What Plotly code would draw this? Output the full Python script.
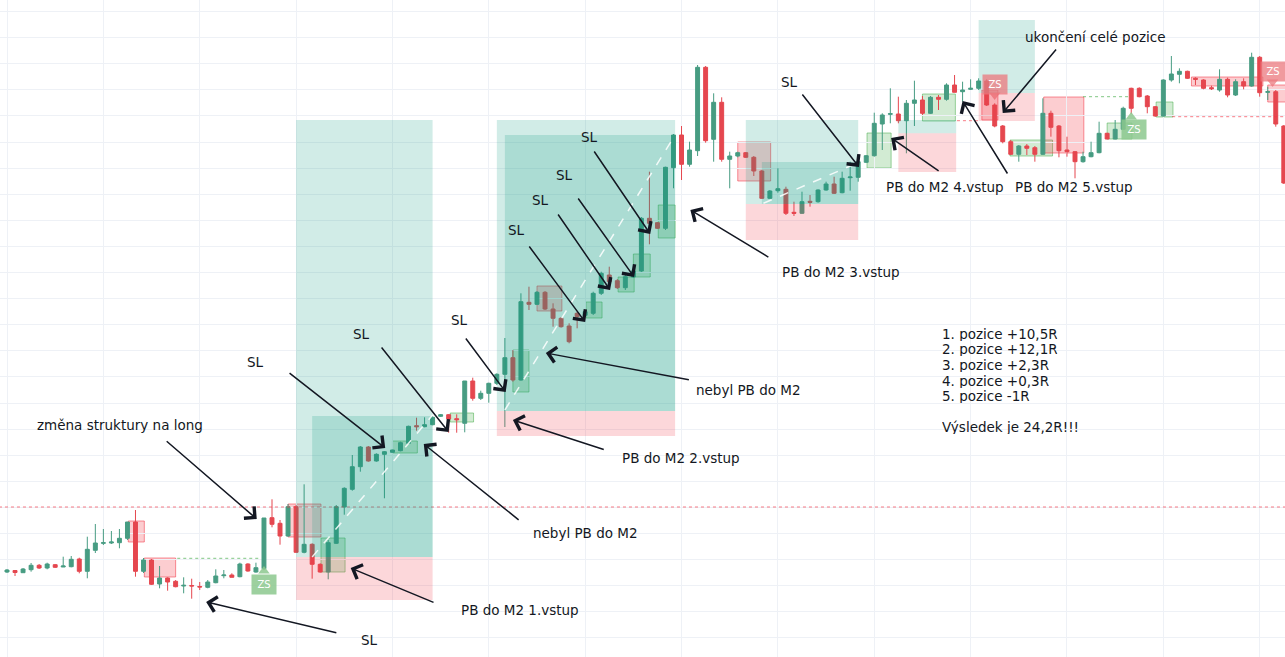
import plotly.graph_objects as go

# ---------------- candle data (price units) ----------------
idx = list(range(160))
open_ = [85, 86.5, 84.3, 87.3, 91.7, 89, 92.3, 90, 90.3, 98,
         85.7, 106.7, 113.7, 114, 114.3, 118.7, 135, 85.7, 97, 73,
         79, 75.7, 71, 71.5, 70.5, 69.7, 74.3, 81.3, 82, 80.3,
         93, 85, 88.3, 139.3, 133.7, 121, 150.3, 104.7, 112.7, 92.7,
         85, 113.7, 150, 167.7, 190.3, 210, 196, 202.7, 204.7, 206.3,
         213.7, 231.3, 230.3, 232.3, 240.7, 242.3, 238.3, 233.7, 276, 258.7,
         263.7, 273.7, 282.7, 299.3, 277, 354.7, 352.7, 364.7, 348, 338.7,
         331, 343.7, 341.7, 343.7, 363.7, 382, 376.3, 369.3, 380, 386,
         438.7, 434.3, 428.7, 489.3, 522, 492.7, 506.3, 589.7, 517.7, 554.7,
         497.7, 501, 504.3, 499.7, 486, 458.7, 466.3, 467.7, 444.7, 443.7,
         455.7, 455.3, 467, 473, 464.3, 479.3, 479.7, 494.7, 501.3, 533,
         542.7, 543, 536.3, 553.7, 557, 543.7, 559.7, 557.7, 572, 565.3,
         567.7, 568.7, 576, 552, 531, 515.3, 502.7, 511, 509.3, 502.7,
         543.7, 531, 507, 505.3, 495.3, 500.3, 504.3, 523.7, 518, 527.7,
         568.7, 568.7, 561, 550.3, 541, 577, 582.7, 585.7, 578.7, 577,
         569.3, 567, 577.7, 562, 575.3, 571, 599.7, 564.7, 565.3, 531]
high = [88, 87, 89, 94, 93, 94.3, 93, 100.3, 101, 99.3,
        120.3, 133, 128, 126, 128, 135, 147, 99, 98, 91,
        79.7, 77, 79.7, 78.3, 75, 77, 87.7, 87, 83.7, 94.3,
        93.7, 94.3, 139, 157.7, 137, 153, 152, 172.7, 113.7, 93.7,
        117, 152, 169.7, 202, 211, 211, 203.7, 206, 207.3, 215.3,
        231.3, 239.3, 239.7, 240.7, 243, 243, 242.7, 276, 279.3, 266.3,
        274.3, 283.7, 319, 307, 363.7, 370.3, 366, 366, 353.7, 340,
        333.7, 345.3, 347, 365.3, 385.3, 390.3, 378, 382, 387, 440,
        485.3, 435, 490.3, 523, 531, 515.3, 592, 591, 563.7, 559.7,
        505.3, 505.3, 505, 501, 487, 467, 488.7, 470.3, 455.3, 465.3,
        462, 467.7, 475.3, 480.3, 485.3, 495.3, 502, 502, 544.3, 543.7,
        568.7, 560.3, 557, 576.3, 561, 561, 562, 573.7, 582, 575.3,
        577.7, 578.7, 577.7, 553.7, 532, 517, 512, 513, 511, 558.7,
        546.3, 532, 520.3, 506, 505.3, 515.3, 535.3, 524.3, 537, 550.3,
        569.3, 569.7, 562, 551, 577.7, 601, 588.7, 586.3, 579.7, 577.7,
        571.3, 587.7, 579.3, 577.7, 578.7, 604.3, 601, 570.3, 567, 532]
low = [84, 81, 84, 85.3, 88, 87.7, 89, 90, 89.7, 83.7,
       78.7, 104, 112, 113, 108.7, 117, 80.3, 84, 72, 68.7,
       66.3, 69.7, 63.7, 58.3, 67, 68.7, 73.7, 78.7, 79.7, 79.7,
       85.3, 84.3, 87, 129.7, 112.3, 120.3, 104.3, 103.7, 78.3, 84.3,
       77.7, 113, 142.3, 166.3, 185.3, 195.3, 195.3, 158.7, 204.3, 205.7,
       213, 226.3, 229.7, 231.7, 240, 224.3, 224.3, 224.7, 256.3, 257,
       254.3, 272, 230, 275.3, 276.3, 347, 352, 347, 330.3, 329.3,
       313.7, 328.7, 340, 342, 362, 367, 368, 367, 379, 385,
       412.7, 428, 427, 468.7, 477, 490.3, 501, 514.3, 495.3, 495.3,
       468.7, 499.7, 499, 481, 458, 458, 464.3, 442, 441, 443,
       450.3, 454.3, 466.3, 463, 463.7, 466.3, 475.3, 494, 500.3, 507,
       533.7, 533.7, 503.7, 531, 542, 543, 547, 556.3, 564.7, 555.3,
       567, 567, 551, 529.7, 513.7, 502, 495.3, 502, 495.3, 502,
       520.3, 499.7, 500.3, 478.7, 494.3, 499.7, 503.7, 517.7, 517.7, 527,
       543, 559.7, 543.7, 540.3, 540.3, 575.3, 573.7, 578, 572, 567.7,
       567, 565.3, 559.7, 561, 567.7, 570.3, 560.3, 557, 530.3, 473]
close = [87, 84.5, 88, 91.7, 89, 93, 89.7, 91, 97.7, 85.7,
         107.7, 114, 114.3, 115, 118.7, 135, 85.7, 97, 72.7, 79,
         75, 70.3, 71.7, 71, 70, 75, 81, 82, 79.7, 93,
         86, 89.3, 139, 132.7, 121, 150.3, 104.7, 112.7, 92.7, 85,
         114.3, 150.3, 168.7, 190.3, 210, 196, 202.7, 205.3, 207, 214.3,
         230.7, 230.3, 232.3, 239.7, 242.3, 238, 237.3, 276, 258.7, 263.7,
         273.7, 282.7, 299.3, 277, 355.3, 352.7, 364.7, 348, 338.7, 330.3,
         315.3, 340.3, 345.3, 363.7, 383.7, 375.3, 369.3, 380.3, 386, 438.7,
         433.7, 428.7, 489.7, 522, 492.7, 507, 589.7, 516.3, 554.7, 497.7,
         501, 504.3, 499.7, 486, 458.7, 466, 468.3, 443.7, 443.7, 455.3,
         454.7, 467, 473, 463.7, 478.7, 480, 495.3, 501.3, 533.7, 542,
         543.3, 536.3, 553.7, 557, 543.7, 559.7, 557.7, 572, 564.7, 567,
         568.7, 576, 552, 531, 515.3, 502.7, 511, 508.7, 502.7, 543.7,
         529.7, 506.3, 505.3, 495.3, 500.3, 504.3, 523.7, 518, 527.7, 548.7,
         548.7, 560.3, 550.3, 541, 577, 583, 585.7, 578.7, 577.7, 568.7,
         568.3, 577.7, 562, 575.3, 571, 599.7, 564.3, 565.3, 533, 474]

# ---------------- drawings (bar index / price) ----------------
# long-position tools: start, end, target, entry, stop
pos_start = [36, 61, 92, 111, 121]
pos_end = [53, 83.2, 106, 118.2, 128]
pos_target = [537, 537, 537, 537, 637]
pos_entry = [100, 246, 453, 523.7, 564]
pos_stop = [57, 221, 417, 485, 536]
# second (overlapping) entries inside the big positions
inner_start = [38, 62, 94]
inner_end = [53, 83.2, 106]
inner_entry = [100, 246, 453]
inner_target = [241, 522, 495]
# trend lines of the positions (white dashed)
trend_x0 = [38, 62, 94.2]
trend_y0 = [100, 247, 453.7]
trend_x1 = [53, 83.2, 105.8]
trend_y1 = [242, 522, 493.7]

# rectangles: x0, x1, y0, y1, kind
box_x0 = [15.1, 17.1, 35, 39.1, 48, 55.2, 63, 66, 72.1, 76.1, 78, 81.1, 91, 107.1, 114, 124.9, 129.1, 137, 143.1, 147.5, 157, 121.4]
box_x1 = [17.1, 21.0, 39.1, 42.1, 51.1, 58.1, 65, 69.1, 74.1, 78.1, 80.1, 83.2, 95.1, 110.1, 118.1, 130.2, 134.1, 140.1, 145.2, 156.4, 159.5, 123.4]
box_y0 = [115, 80, 120, 85, 204, 235, 265, 346, 339, 365, 380, 419, 476, 489, 536, 501, 504, 518, 540, 571, 555, 537]
box_y1 = [136, 99, 153, 119, 216, 244, 307, 371, 355, 380, 403, 452, 515, 524, 563, 517, 560, 534, 555, 580, 572, 567]
box_kind = ["r", "r", "r", "g", "g", "g", "g", "r", "g", "g", "g", "g", "r", "g", "g", "g", "r", "g", "g", "r", "r", "r"]

# dotted level lines: x0, x1, price, kind
lvl_x0 = [-1, 21.2, 134, 118.3, 145.1]
lvl_x1 = [161, 31.5, 139.8, 121.2, 159.5]
lvl_y = [150, 98.7, 560.3, 536.3, 540.3]
lvl_kind = ["r", "g", "g", "r", "r"]

# ZS labels: bar, price, kind, triangle bar, triangle price
zs_x = [32, 140.4, 123, 157.6]
zs_y = [72.5, 527.5, 573, 586]
zs_kind = ["g", "g", "r", "r"]
zs_tri_x = [32, 140.0, 123, 157.6]
zs_tri_y = [86, 540, 562, 575]

# arrows: head (bar, price) and tail (bar, price)
arr_hx = [31.1, 24.8, 42.8, 51.9, 47.1, 55.0, 62.1, 67.1, 63.0, 72.0, 75.1, 78.1, 80.1, 85.1, 106.1, 110.1, 119.0, 124.0]
arr_hy = [138, 55, 89, 213, 209, 225, 265, 304, 237, 335, 367, 380, 423, 447, 490, 519, 556, 544]
arr_tx = [19.7, 41.2, 53.3, 63.9, 35.0, 46.5, 57.0, 85.1, 74.5, 64.9, 68.5, 71.0, 73.0, 95.0, 98.9, 116.2, 124.7, 130.8]
arr_ty = [217, 24, 54, 136, 285, 311, 320, 277, 207, 412, 444, 460, 507, 399, 564, 485, 482, 609]

# text labels
lab_text = ["změna struktury na long", "SL", "PB do M2 1.vstup", "nebyl PB do M2",
            "SL", "SL", "SL", "SL", "SL", "SL", "SL", "SL",
            "nebyl PB do M2", "PB do M2 2.vstup", "PB do M2 3.vstup",
            "PB do M2 4.vstup", "PB do M2 5.vstup", "ukončení celé pozice"]
lab_x = [14.1, 45.2, 63.9, 72.1, 30.9, 44.2, 56.3, 63.4, 66.4, 69.4, 72.5, 97.4,
         92.4, 83.9, 103.9, 116.8, 132.9, 135.6]
lab_y = [232, 17, 47, 124, 295, 323, 337, 427, 457, 482, 520, 575,
         267, 199, 385, 470, 470, 620]

res_lines = ["1. pozice +10,5R", "2. pozice +12,1R", "3. pozice +2,3R",
             "4. pozice +0,3R", "5. pozice -1R", "Výsledek je 24,2R!!!"]
res_x = 116.2
res_y = [324, 308.3, 293, 277, 261.7, 230.7]

# ---------------- styles ----------------
UP = "#479c82"
DOWN = "#e5474f"
TEAL = "rgba(8,153,129,0.19)"
REDZ = "rgba(242,54,69,0.2)"
GFILL = "rgba(76,175,80,0.25)"
GLINE = "rgba(76,175,80,0.55)"
RFILL = "rgba(242,54,69,0.25)"
RLINE = "rgba(242,54,69,0.55)"
TXT = "#131722"
FONT = "DejaVu Sans"

fig = go.Figure()
fig.add_trace(go.Candlestick(
    x=idx, open=open_, high=high, low=low, close=close,
    increasing=dict(line=dict(color=UP, width=1), fillcolor=UP),
    decreasing=dict(line=dict(color=DOWN, width=1), fillcolor=DOWN),
    whiskerwidth=0, hoverinfo="skip", showlegend=False))

# ZS label pointers
fig.add_trace(go.Scatter(
    x=zs_tri_x, y=zs_tri_y, mode="markers", hoverinfo="skip", showlegend=False,
    marker=dict(symbol=["triangle-up" if k == "g" else "triangle-down" for k in zs_kind],
                size=10,
                color=["rgba(140,200,142,0.85)" if k == "g" else "rgba(235,120,125,0.75)" for k in zs_kind],
                line=dict(width=0))))

shapes = []
# small rectangles (below candles)
for x0, x1, y0, y1, k in zip(box_x0, box_x1, box_y0, box_y1, box_kind):
    shapes.append(dict(type="rect", xref="x", yref="y", x0=x0, x1=x1, y0=y0, y1=y1,
                       fillcolor=GFILL if k == "g" else RFILL,
                       line=dict(color=GLINE if k == "g" else RLINE, width=1),
                       layer="below"))
# dotted levels
for x0, x1, y, k in zip(lvl_x0, lvl_x1, lvl_y, lvl_kind):
    shapes.append(dict(type="line", xref="x", yref="y", x0=x0, x1=x1, y0=y, y1=y,
                       line=dict(color="rgba(242,54,69,0.65)" if k == "r" else "rgba(76,175,80,0.7)",
                                 width=1, dash="dot"),
                       layer="above"))
# position tools (above candles)
for s, e, t, en, st in zip(pos_start, pos_end, pos_target, pos_entry, pos_stop):
    shapes.append(dict(type="rect", xref="x", yref="y", x0=s, x1=e, y0=en, y1=t,
                       fillcolor=TEAL, line=dict(width=0), layer="above"))
    shapes.append(dict(type="rect", xref="x", yref="y", x0=s, x1=e, y0=st, y1=en,
                       fillcolor=REDZ, line=dict(width=0), layer="above"))
for s, e, en, t in zip(inner_start, inner_end, inner_entry, inner_target):
    shapes.append(dict(type="rect", xref="x", yref="y", x0=s, x1=e, y0=en, y1=t,
                       fillcolor=TEAL, line=dict(width=0), layer="above"))
for x0, y0, x1, y1 in zip(trend_x0, trend_y0, trend_x1, trend_y1):
    shapes.append(dict(type="line", xref="x", yref="y", x0=x0, y0=y0, x1=x1, y1=y1,
                       line=dict(color="rgba(255,255,255,0.85)", width=1.5, dash="dash"),
                       layer="above"))

annotations = []
for hx, hy, tx, ty in zip(arr_hx, arr_hy, arr_tx, arr_ty):
    annotations.append(dict(x=hx, y=hy, xref="x", yref="y", ax=tx, ay=ty,
                            axref="x", ayref="y", text="", showarrow=True,
                            arrowhead=4, arrowsize=2.0, arrowwidth=1.5,
                            arrowcolor=TXT, standoff=0, startstandoff=0))
for t, x, y in zip(lab_text, lab_x, lab_y):
    annotations.append(dict(x=x, y=y, xref="x", yref="y", text=t, showarrow=False,
                            font=dict(family=FONT, size=13.5, color=TXT)))
for t, y in zip(res_lines, res_y):
    annotations.append(dict(x=res_x, y=y, xref="x", yref="y", text=t, showarrow=False,
                            xanchor="left", height=15, valign="middle",
                            font=dict(family=FONT, size=13.5, color=TXT)))
for x, y, k in zip(zs_x, zs_y, zs_kind):
    annotations.append(dict(x=x, y=y, xref="x", yref="y", text="ZS", showarrow=False,
                            width=20, height=15,
                            bgcolor="rgba(140,200,142,0.85)" if k == "g" else "rgba(235,120,125,0.75)",
                            borderpad=2,
                            font=dict(family=FONT, size=10, color="white")))

fig.update_layout(
    width=1285, height=657,
    margin=dict(l=0, r=0, t=0, b=0),
    paper_bgcolor="white", plot_bgcolor="white",
    showlegend=False,
    shapes=shapes, annotations=annotations,
    xaxis=dict(range=[-0.872, 159.15], rangeslider=dict(visible=False),
               showticklabels=False, ticks="", showline=False, zeroline=False,
               showgrid=True, gridcolor="#eef1f6", gridwidth=1, tick0=0, dtick=12),
    yaxis=dict(range=[0, 657], showticklabels=False, ticks="", showline=False,
               zeroline=False, showgrid=True, gridcolor="#eef1f6", gridwidth=1,
               tick0=71.3, dtick=26.1),
)

fig.write_html("out.html", config={"displayModeBar": False},
               post_script="document.body.style.margin='0';document.body.style.overflow='hidden';")
